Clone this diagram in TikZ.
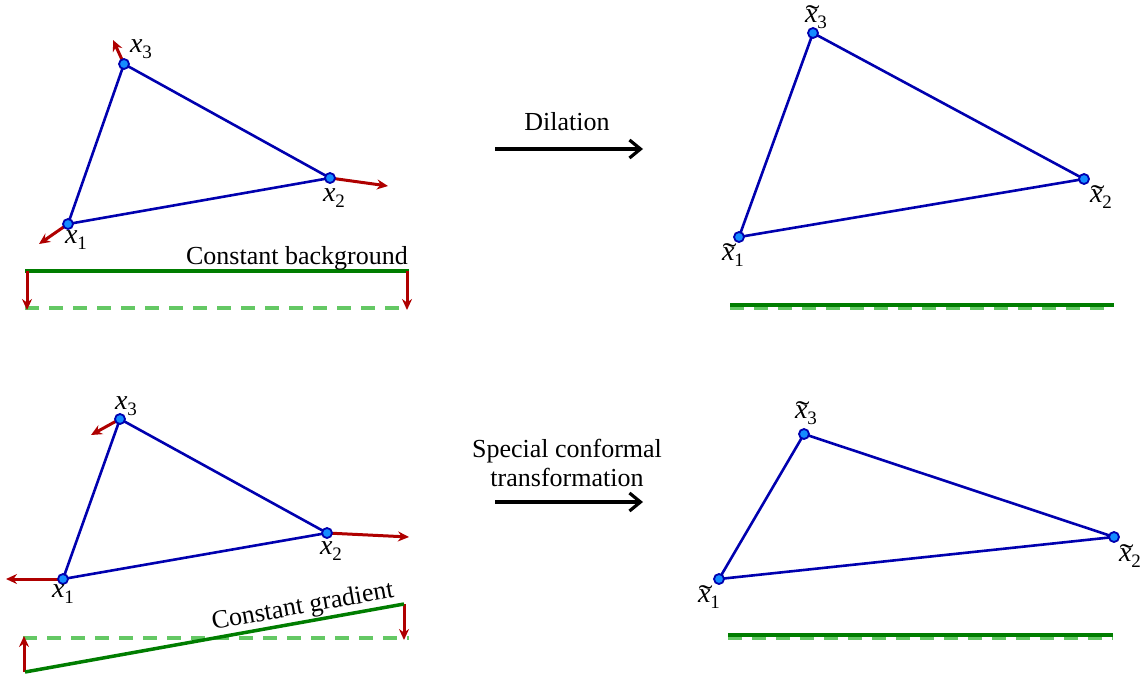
\documentclass[tikz,border=0pt]{standalone}
\usepackage{fontspec}
\usepackage{graphicx}
\setmainfont{Liberation Serif}
\usetikzlibrary{arrows.meta}
\definecolor{triblue}{RGB}{0,0,175}
\definecolor{dotblue}{RGB}{20,140,255}
\definecolor{darkred}{RGB}{175,0,0}
\definecolor{bggreen}{RGB}{0,125,0}
\definecolor{lightgreen}{RGB}{100,200,100}
\newcommand\xsub[2]{#1\raisebox{-6pt}{\fontsize{19}{19}\selectfont #2}}
\newcommand\xv[1]{\xsub{\textit{x}}{#1}}
\newcommand\tildex{\leavevmode\rlap{\kern0.5pt\raisebox{-2pt}{\scalebox{1.5}[1]{\char"02DC}}}\textit{x}}
\newcommand\xt[1]{\xsub{\tildex}{#1}}
\tikzset{
  tri/.style={draw=triblue, line width=2.6pt, line join=round},
  vdot/.style={circle, draw=triblue, fill=dotblue, line width=1.8pt, minimum size=10pt, inner sep=0pt},
  force/.style={draw=darkred, line width=3pt, -{Stealth[length=11pt,width=10pt]}},
  bgline/.style={draw=bggreen, line width=3.5pt},
  dashline/.style={draw=lightgreen, line width=3.5pt, dash pattern=on 14pt off 10pt},
  lbl/.style={font=\fontsize{28}{28}\selectfont, inner sep=0pt},
  txt/.style={font=\fontsize{26}{29}\selectfont, inner sep=0pt, align=center},
  maparrow/.style={draw=black, line width=3.2pt, -{Straight Barb[length=11pt,width=18pt]}}
}
\begin{document}
\begin{tikzpicture}[x=1pt,y=-1pt]
\useasboundingbox (0,0) rectangle (1148,675);
% ---------------- top left ----------------
\coordinate (A1) at (68,224);
\coordinate (A2) at (330,178);
\coordinate (A3) at (124,64);
\coordinate (fA1) at (39,244);
\coordinate (fA2) at (388,186);
\coordinate (fA3) at (113,40);
\coordinate (gA1) at (25,271);
\coordinate (gA2) at (409,271);
\coordinate (hA1) at (25,308);
\coordinate (hA2) at (409,308);
\coordinate (rA1) at (27,271);
\coordinate (rA1t) at (27,310);
\coordinate (rA2) at (407,271);
\coordinate (rA2t) at (407,310);
\draw[dashline] (hA1) -- (hA2);
\draw[bgline] (gA1) -- (gA2);
\draw[force] (rA1) -- (rA1t);
\draw[force] (rA2) -- (rA2t);
\node[txt, anchor=base east] (cbg) at (408,264) {Constant background};
\draw[force] (A1) -- (fA1);
\draw[force] (A2) -- (fA2);
\draw[force] (A3) -- (fA3);
\draw[tri] (A1) -- (A2) -- (A3) -- cycle;
\node[vdot] (dA1) at (A1) {};
\node[vdot] (dA2) at (A2) {};
\node[vdot] (dA3) at (A3) {};
\node[lbl] (lA1) at (76,240) {\xv{1}};
\node[lbl] (lA2) at (334,198) {\xv{2}};
\node[lbl] (lA3) at (141,49) {\xv{3}};
% ---------------- top right ----------------
\coordinate (B1) at (739,237);
\coordinate (B2) at (1084,179);
\coordinate (B3) at (813,33);
\coordinate (gB1) at (730,305);
\coordinate (gB2) at (1114,305);
\coordinate (hB1) at (730,308);
\coordinate (hB2) at (1114,308);
\draw[dashline] (hB1) -- (hB2);
\draw[bgline] (gB1) -- (gB2);
\draw[tri] (B1) -- (B2) -- (B3) -- cycle;
\node[vdot] (dB1) at (B1) {};
\node[vdot] (dB2) at (B2) {};
\node[vdot] (dB3) at (B3) {};
\node[lbl] (lB1) at (733,255) {\xt{1}};
\node[lbl] (lB2) at (1101,197) {\xt{2}};
\node[lbl] (lB3) at (816,17) {\xt{3}};
% ---------------- dilation arrow ----------------
\coordinate (m1s) at (495,149);
\coordinate (m1e) at (643,149);
\draw[maparrow] (m1s) -- (m1e);
\node[txt] (dil) at (567,122) {Dilation};
% ---------------- bottom left ----------------
\coordinate (C1) at (63,579);
\coordinate (C2) at (327,533);
\coordinate (C3) at (120,419);
\coordinate (fC1) at (6,579);
\coordinate (fC2) at (409,537);
\coordinate (fC3) at (91,435);
\coordinate (hC1) at (23,638);
\coordinate (hC2) at (409,638);
\coordinate (gC1) at (25,672);
\coordinate (gC2) at (404,604);
\coordinate (rC1t) at (24,636);
\coordinate (rC1) at (24,672);
\coordinate (rC2) at (404,604);
\coordinate (rC2t) at (404,640);
\draw[dashline] (hC1) -- (hC2);
\draw[force] (rC1) -- (rC1t);
\draw[force] (rC2) -- (rC2t);
\draw[bgline] (gC1) -- node[txt, pos=0.74, above=1pt, sloped] (cgr) {Constant gradient} (gC2);
\draw[force] (C1) -- (fC1);
\draw[force] (C2) -- (fC2);
\draw[force] (C3) -- (fC3);
\draw[tri] (C1) -- (C2) -- (C3) -- cycle;
\node[vdot] (dC1) at (C1) {};
\node[vdot] (dC2) at (C2) {};
\node[vdot] (dC3) at (C3) {};
\node[lbl] (lC1) at (63,594) {\xv{1}};
\node[lbl] (lC2) at (331,551) {\xv{2}};
\node[lbl] (lC3) at (126,406) {\xv{3}};
% ---------------- bottom right ----------------
\coordinate (D1) at (719,579);
\coordinate (D2) at (1114,537);
\coordinate (D3) at (804,434);
\coordinate (gD1) at (728,635);
\coordinate (gD2) at (1113,635);
\coordinate (hD1) at (728,638);
\coordinate (hD2) at (1113,638);
\draw[dashline] (hD1) -- (hD2);
\draw[bgline] (gD1) -- (gD2);
\draw[tri] (D1) -- (D2) -- (D3) -- cycle;
\node[vdot] (dD1) at (D1) {};
\node[vdot] (dD2) at (D2) {};
\node[vdot] (dD3) at (D3) {};
\node[lbl] (lD1) at (709,597) {\xt{1}};
\node[lbl] (lD2) at (1130,556) {\xt{2}};
\node[lbl] (lD3) at (806,413) {\xt{3}};
% ---------------- SCT arrow ----------------
\coordinate (m2s) at (495,502);
\coordinate (m2e) at (643,502);
\draw[maparrow] (m2s) -- (m2e);
\node[txt] (sct) at (567,463) {Special conformal\\transformation};
\end{tikzpicture}
\end{document}
